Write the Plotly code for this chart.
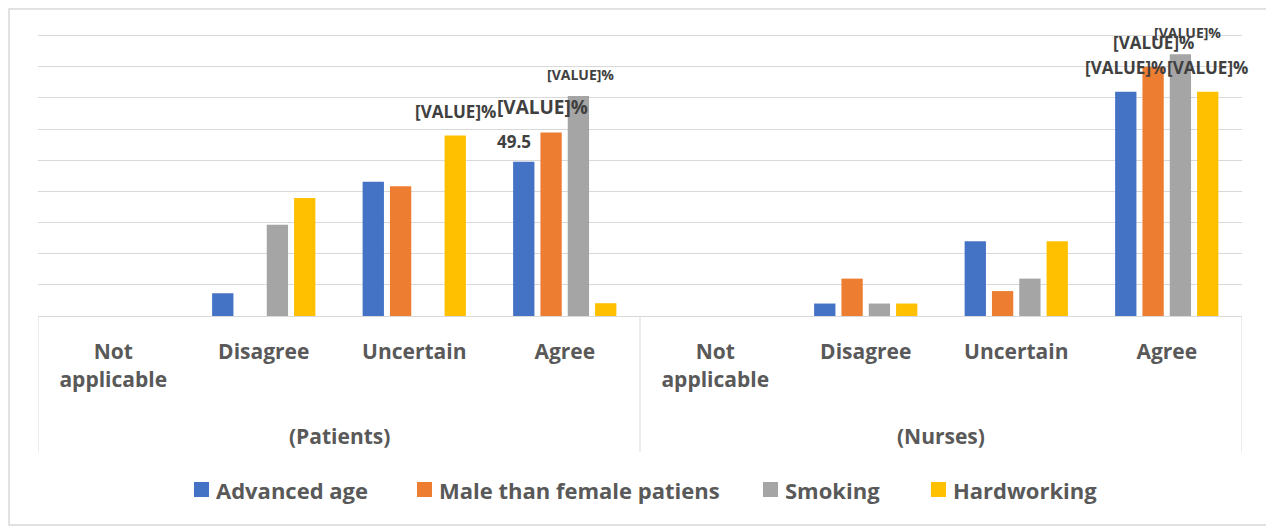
import plotly.graph_objects as go

group_names = ["(Patients)", "(Nurses)"]
categories = ["Not<br>applicable", "Disagree", "Uncertain", "Agree"] * 2
series_names = ["Advanced age", "Male than female patiens", "Smoking", "Hardworking"]
colors = ["#4472C4", "#ED7D31", "#A5A5A5", "#FFC000"]

advanced_age = [0, 7.3, 43.1, 49.5, 0, 4, 24, 72]
male_than_female = [0, 0, 41.6, 58.9, 0, 12, 8, 80]
smoking = [0, 29.3, 0, 70.6, 0, 4, 12, 84]
hardworking = [0, 37.9, 57.9, 4.1, 0, 4, 24, 72]
values = [advanced_age, male_than_female, smoking, hardworking]

# data labels: (series index, category index, text, font size, x shift px, y shift px)
labels = [
    (3, 2, "[VALUE]%", 17, 0, 24),
    (0, 3, "49.5", 17, -10, 20),
    (1, 3, "[VALUE]%", 19, -9, 25),
    (2, 3, "[VALUE]%", 14, 2, 22),
    (0, 7, "[VALUE]%", 17, 0, 24),
    (1, 7, "[VALUE]%", 17, 0, 24),
    (2, 7, "[VALUE]%", 14, 7, 22),
    (3, 7, "[VALUE]%", 17, 0, 24),
]

FONT = "Open Sans"
TXT = "#595959"
LBL = "#404040"
GRID = "#D9D9D9"
BARGAP = 0.274
BARGROUPGAP = 0.22

OFF = 8  # page body margin
W, H = 1266, 519
ML, MR, MT, MB = 30, 32, 26, 211
PW, PH = W - ML - MR, H - MT - MB


def px_x(px):
    return (px - OFF - ML) / PW


def px_y(py):
    return (H - MB - (py - OFF)) / PH


xpos = list(range(len(categories)))

fig = go.Figure()
for name, col, vals in zip(series_names, colors, values):
    fig.add_trace(go.Bar(
        x=xpos, y=vals, name=name,
        marker=dict(color=col, line=dict(width=0)),
    ))

slot = (1 - BARGAP) / 4
for s, c, txt, size, dx, dy in labels:
    fig.add_annotation(
        x=xpos[c] + (s - 1.5) * slot, xref="x", y=values[s][c], yref="y",
        text=txt, showarrow=False, xshift=dx, yshift=dy,
        font=dict(family=FONT, size=size, color=LBL, weight="bold"),
    )

# group labels and dividers
ngroup = len(group_names)
per = len(categories) // ngroup
for g, gname in enumerate(group_names):
    fig.add_annotation(
        x=g * per + (per - 1) / 2, xref="x", y=px_y(436), yref="paper",
        text=gname, showarrow=False, yanchor="middle",
        font=dict(family=FONT, size=21, color=TXT, weight="bold"),
    )
for b in range(ngroup + 1):
    fig.add_shape(type="line", xref="x", yref="paper",
                  x0=b * per - 0.5, x1=b * per - 0.5, y0=0, y1=px_y(452),
                  line=dict(color=GRID, width=1))

# legend (drawn as squares + text)
legend_sq = [194, 417, 763, 931]
for name, col, x0 in zip(series_names, colors, legend_sq):
    fig.add_shape(type="rect", xref="paper", yref="paper",
                  x0=px_x(x0), x1=px_x(x0 + 15), y0=px_y(497), y1=px_y(482),
                  line=dict(width=0), fillcolor=col)
    fig.add_annotation(
        x=px_x(x0 + 20), xref="paper", y=px_y(490), yref="paper",
        text=name, showarrow=False, xanchor="left", yanchor="middle",
        font=dict(family=FONT, size=22, color=TXT, weight="bold"),
    )

# chart border
fig.add_shape(type="rect", xref="paper", yref="paper",
              x0=px_x(9), x1=px_x(1271), y0=px_y(525), y1=px_y(9),
              line=dict(color=GRID, width=1.5), fillcolor="rgba(0,0,0,0)", layer="below")

fig.update_layout(
    width=W, height=H,
    margin=dict(l=ML, r=MR, t=MT, b=MB, autoexpand=False),
    paper_bgcolor="white", plot_bgcolor="white",
    barmode="group", bargap=BARGAP, bargroupgap=BARGROUPGAP,
    font=dict(family=FONT, size=21, color=TXT, weight="bold"),
    showlegend=False,
    xaxis=dict(range=[-0.5, len(categories) - 0.5], tickvals=xpos, ticktext=categories,
               showline=True, linecolor=GRID, linewidth=1, showgrid=False, ticks="",
               zeroline=False, automargin=False, ticklabelstandoff=17,
               tickfont=dict(family=FONT, size=21, color=TXT, weight="bold")),
    yaxis=dict(range=[0, 90.5], tickvals=list(range(0, 91, 10)), showticklabels=False,
               showgrid=True, gridcolor=GRID, gridwidth=1, zeroline=False,
               showline=False, automargin=False),
)

fig.write_html("out.html")
